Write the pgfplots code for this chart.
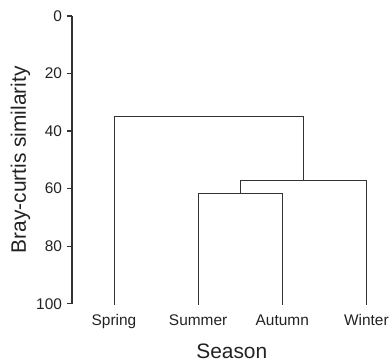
\documentclass[border=0pt]{standalone}
\usepackage{pgfplots}
\pgfplotsset{compat=1.18}
\usepackage{fontspec}
\setmainfont{Liberation Sans}
\definecolor{txt}{HTML}{222222}
\definecolor{ln}{HTML}{333333}
\begin{document}
\begin{tikzpicture}
\begin{axis}[
  scale only axis,
  width=320bp, height=288bp,
  xmin=-0.5, xmax=3.3,
  ymin=0, ymax=100,
  y dir=reverse,
  axis y line*=left,
  axis x line*=bottom,
  x axis line style={draw=none},
  y axis line style={line width=1.3pt, color=ln, -},
  ytick={0,20,40,60,80,100},
  ytick style={line width=1.3pt, color=ln},
  tick align=outside,
  major tick length=4.5bp,
  xtick={0,1,2,3},
  xticklabels={Spring,Summer,Autumn,Winter},
  xtick style={draw=none},
  /pgf/number format/assume math mode=true,
  tick label style={font=\fontsize{15.5}{17}\selectfont, text=txt},
  yticklabel style={xshift=-2bp},
  xticklabel style={anchor=base, yshift=-17bp},
  label style={font=\fontsize{21}{24}\selectfont, text=txt},
  xlabel={Season},
  xlabel style={at={(axis description cs:0.5,0)}, anchor=base, yshift=-55bp},
  ylabel={Bray-curtis similarity},
  ylabel style={at={(axis description cs:-0.161,0.5)}, anchor=center},
  clip=false,
]
\addplot[ln, line width=0.8pt] coordinates {(1,100.5) (1,61.5) (2,61.5) (2,100.5)};
\addplot[ln, line width=0.8pt] coordinates {(1.5,61.5) (1.5,57) (3,57) (3,100.5)};
\addplot[ln, line width=0.8pt] coordinates {(0,100.5) (0,35) (2.25,35) (2.25,57)};
\coordinate (O) at (rel axis cs:0,0);
\end{axis}
\path ([xshift=-72bp,yshift=-57bp]O) rectangle ([xshift=320bp,yshift=304bp]O);
\end{tikzpicture}
\end{document}
